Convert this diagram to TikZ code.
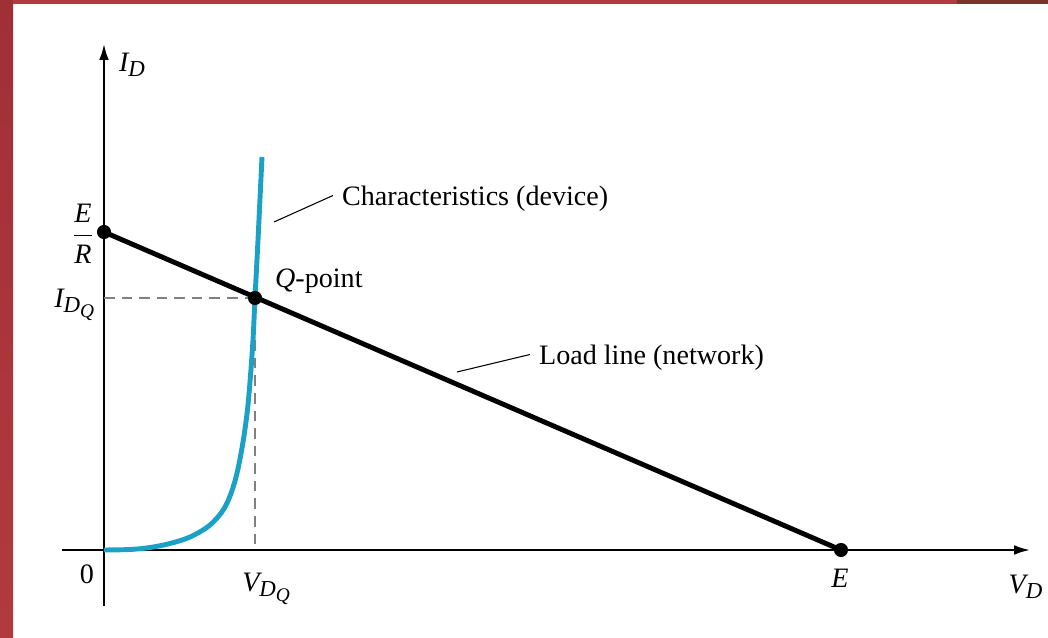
\documentclass[tikz,border=0pt]{standalone}
\usepackage{amsmath}
\usepackage[no-math]{fontspec}
\setmainfont{Liberation Serif}
\DeclareMathSizes{16}{16}{13}{11}
\usetikzlibrary{arrows.meta,positioning}
\definecolor{slidered}{RGB}{178,58,62}
\definecolor{slidetop}{RGB}{160,48,54}
\definecolor{slidedark}{RGB}{122,52,46}
\definecolor{devblue}{RGB}{27,160,198}

\begin{document}
\begin{tikzpicture}[x=0.02cm,y=-0.02cm,
  axis/.style={line width=1.1pt,-{Latex[length=9pt,width=5.5pt]}},
  load/.style={line width=2.8pt},
  device/.style={line width=2.8pt,devblue},
  guide/.style={gray,line width=0.8pt,dash pattern=on 6pt off 4pt},
  leader/.style={line width=0.6pt},
  dot/.style={circle,fill=black,inner sep=0pt,minimum size=8pt},
  lbl/.style={font=\fontsize{16}{19}\selectfont,inner sep=1pt}
]
  \useasboundingbox (0,0) rectangle (1048,638);
  % slide frame
  \shade[top color=slidetop,bottom color=slidered] (0,0) rectangle (13,638);
  \fill[slidered] (13,0) rectangle (957,4);
  \fill[slidedark] (957,0) rectangle (1048,4);

  \coordinate (ybot) at (104,606);
  \coordinate (ytop) at (104,44);
  \coordinate (xleft) at (62,550);
  \coordinate (xright) at (1030,550);
  \coordinate (er) at (104,232);
  \coordinate (q) at (255,298);
  \coordinate (e) at (841,550);
  \coordinate (iq) at (104,298);
  \coordinate (vq) at (255,550);

  \draw[axis] (ybot) -- (ytop);
  \draw[axis] (xleft) -- (xright);
  \draw[guide] (iq) -- (q) -- (vq);

  % diode curve
  \draw[device] plot[smooth,tension=0.55] coordinates {(104,550) (130,549.5) (150,547.5)
    (170,543.5) (190,537) (210,525) (225,507) (235,481) (242,448) (247,414)
    (250,382) (253,340) (q) (258,240) (262,157)};
  \draw[load] (er) -- (e);

  \node[dot] (ER) at (er) {};
  \node[dot] (Q) at (q) {};
  \node[dot] (E) at (e) {};

  \node[lbl,anchor=west] (lID) at (117,65) {$\textit{I}_{\textit{D}}$};
  \node[lbl] (lER) at (83,234) {$\dfrac{\textit{E}}{\textit{R}}$};
  \node[lbl,anchor=east] (lIDQ) at (98,305) {$\textit{I}_{\textit{D}_{\textit{Q}}}$};
  \node[lbl] (l0) at (87,574) {0};
  \node[lbl] (lVDQ) at (267,589) {$\textit{V}_{\textit{D}_{\textit{Q}}}$};
  \node[lbl] (lE) at (840,578) {$\textit{E}$};
  \node[lbl] (lVD) at (1026,587) {$\textit{V}_{\textit{D}}$};
  \node[lbl,anchor=west] (lQ) at (273,281) {\textit{Q}-point};
  \node[lbl,anchor=west] (lchar) at (340,199) {Characteristics (device)};
  \node[lbl,anchor=west] (lload) at (537,358) {Load line (network)};

  \coordinate (cd) at (274,222);
  \coordinate (ld) at (457,372);
  \draw[leader] (cd) -- ([xshift=-4pt,yshift=2pt]lchar.west);
  \draw[leader] (ld) -- ([xshift=-4pt,yshift=2pt]lload.west);
\end{tikzpicture}
\end{document}
